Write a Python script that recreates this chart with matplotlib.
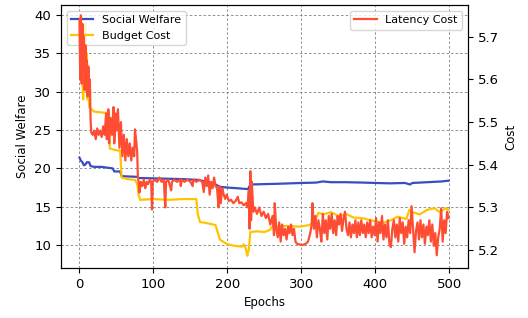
import matplotlib.pyplot as plt

# Social welfare (left axis)
sw_epochs = [0, 2, 4, 6, 8, 10, 13, 15, 20, 30, 37, 45, 47, 55, 57, 65, 78, 80, 100,
             120, 140, 160, 170, 180, 190, 200, 215, 228, 231, 250, 270, 300, 320,
             329, 340, 360, 383, 400, 420, 440, 447, 450, 470, 490, 499]
sw_values = [21.4, 21.0, 20.8, 20.4, 20.5, 20.8, 20.8, 20.3, 20.2, 20.2, 20.1, 20.0,
             19.6, 19.6, 19.0, 18.95, 18.9, 18.75, 18.7, 18.65, 18.6, 18.5, 18.3,
             18.1, 17.6, 17.5, 17.4, 17.3, 17.9, 17.95, 18.0, 18.1, 18.15, 18.3,
             18.2, 18.2, 18.15, 18.1, 18.05, 18.1, 17.9, 18.1, 18.2, 18.3, 18.4]

# Budget cost (left axis)
bc_epochs = [0, 1, 2, 3, 4, 5, 6, 7, 8, 9, 10, 11, 12, 13, 15, 20, 30, 40, 41, 48,
             55, 57, 65, 75, 78, 80, 82, 100, 120, 140, 158, 160, 163, 170, 180,
             184, 188, 190, 195, 200, 210, 220, 222, 225, 227, 229, 231, 240, 250,
             258, 260, 280, 298, 310, 316, 320, 323, 330, 340, 350, 362, 370, 383,
             400, 410, 420, 430, 442, 446, 450, 460, 470, 480, 487, 495, 499]
bc_values = [39.7, 36.0, 39.5, 33.0, 31.0, 29.0, 31.5, 36.0, 39.0, 30.0, 35.0, 29.0,
             33.0, 28.0, 27.8, 27.4, 27.3, 27.2, 22.6, 22.4, 22.3, 18.8, 18.6, 18.5,
             18.0, 16.5, 15.9, 16.0, 15.9, 16.0, 16.0, 14.0, 13.0, 12.9, 12.7, 12.6,
             11.3, 10.7, 10.4, 10.1, 9.9, 9.8, 10.1, 9.5, 8.6, 9.5, 11.7, 11.8, 11.7,
             12.0, 12.4, 12.5, 12.4, 12.6, 12.9, 13.5, 14.2, 14.0, 14.3, 13.8, 14.0,
             13.6, 13.5, 13.1, 12.9, 13.2, 13.7, 13.4, 14.6, 14.3, 14.0, 14.6, 14.8,
             14.3, 14.8, 14.6]

# Latency cost (right axis)
lc_epochs = [0, 1, 2, 3, 4, 5, 6, 7, 8, 9, 10, 11, 12, 13, 14, 15, 16, 18, 20, 22,
             24, 26, 28, 30, 32, 34, 36, 37, 39, 40, 42, 44, 46, 47, 49, 50, 52, 54,
             56, 58, 60, 62, 64, 66, 68, 70, 72, 74, 75, 77, 78, 79, 80, 81, 83, 85,
             87, 89, 91, 93, 95, 97, 98, 99, 102, 105, 108, 111, 114, 116, 117, 120,
             124, 125, 128, 132, 136, 137, 138, 142, 146, 150, 153, 154, 158, 162,
             166, 168, 170, 172, 174, 176, 178, 180, 182, 184, 186, 188, 189, 191,
             193, 195, 197, 199, 202, 205, 208, 211, 214, 216, 219, 222, 225, 227,
             229, 230, 231, 232, 233, 235, 237, 240, 243, 246, 249, 252, 255, 258,
             261, 263, 264, 266, 268, 270, 272, 274, 276, 278, 280, 282, 284, 286,
             288, 290, 292, 294, 298, 302, 306, 309, 312, 314, 315, 317, 319, 321,
             323, 325, 327, 329, 331, 333, 335, 337, 339, 341, 343, 345, 347, 349,
             351, 353, 355, 357, 359, 361, 363, 365, 367, 369, 371, 373, 375, 377,
             379, 381, 383, 385, 387, 389, 391, 393, 395, 397, 399, 401, 403, 405,
             407, 409, 411, 413, 415, 417, 419, 421, 423, 425, 427, 429, 431, 433,
             435, 437, 439, 441, 443, 445, 447, 449, 451, 453, 455, 457, 459, 461,
             463, 465, 467, 469, 471, 473, 475, 477, 479, 481, 483, 485, 487, 489,
             491, 493, 495, 497, 499]
lc_values = [5.74, 5.60, 5.75, 5.59, 5.73, 5.62, 5.70, 5.575, 5.68, 5.60, 5.645,
             5.56, 5.63, 5.58, 5.60, 5.505, 5.475, 5.47, 5.48, 5.46, 5.485, 5.47,
             5.48, 5.465, 5.49, 5.47, 5.52, 5.46, 5.53, 5.45, 5.51, 5.47, 5.535,
             5.45, 5.52, 5.48, 5.53, 5.44, 5.50, 5.42, 5.47, 5.41, 5.46, 5.42, 5.45,
             5.41, 5.44, 5.42, 5.483, 5.45, 5.43, 5.37, 5.36, 5.335, 5.36, 5.35,
             5.365, 5.345, 5.36, 5.355, 5.365, 5.36, 5.295, 5.36, 5.365, 5.36, 5.37,
             5.36, 5.365, 5.30, 5.36, 5.365, 5.34, 5.36, 5.365, 5.36, 5.365, 5.35,
             5.365, 5.36, 5.365, 5.36, 5.35, 5.365, 5.36, 5.365, 5.36, 5.336, 5.37,
             5.35, 5.375, 5.33, 5.36, 5.345, 5.37, 5.35, 5.345, 5.30, 5.35, 5.31,
             5.345, 5.33, 5.32, 5.33, 5.315, 5.318, 5.31, 5.315, 5.325, 5.31, 5.312,
             5.305, 5.31, 5.30, 5.34, 5.25, 5.385, 5.27, 5.36, 5.29, 5.30, 5.285,
             5.30, 5.28, 5.29, 5.275, 5.285, 5.26, 5.28, 5.235, 5.31, 5.25, 5.23,
             5.265, 5.22, 5.26, 5.235, 5.25, 5.225, 5.255, 5.24, 5.26, 5.235, 5.25,
             5.22, 5.215, 5.213, 5.212, 5.215, 5.22, 5.24, 5.26, 5.31, 5.25, 5.28,
             5.23, 5.27, 5.25, 5.22, 5.285, 5.24, 5.27, 5.225, 5.28, 5.25, 5.285,
             5.24, 5.27, 5.235, 5.28, 5.26, 5.285, 5.245, 5.275, 5.29, 5.25, 5.235,
             5.265, 5.23, 5.26, 5.24, 5.27, 5.23, 5.265, 5.235, 5.27, 5.24, 5.26,
             5.23, 5.265, 5.24, 5.27, 5.23, 5.255, 5.235, 5.275, 5.22, 5.265, 5.24,
             5.28, 5.225, 5.26, 5.23, 5.27, 5.215, 5.207, 5.25, 5.27, 5.23, 5.26,
             5.22, 5.275, 5.24, 5.265, 5.215, 5.255, 5.23, 5.27, 5.24, 5.303, 5.25,
             5.195, 5.245, 5.265, 5.225, 5.27, 5.23, 5.26, 5.215, 5.255, 5.235,
             5.27, 5.22, 5.26, 5.21, 5.24, 5.188, 5.23, 5.25, 5.298, 5.22, 5.27,
             5.24, 5.29, 5.275]

fig, ax1 = plt.subplots(figsize=(5.28, 3.18), dpi=100)
fig.subplots_adjust(left=0.1155, right=0.886, bottom=0.157, top=0.984)

ax1.plot(sw_epochs, sw_values, color="#3B4CC0", linewidth=1.6, label="Social Welfare")
ax1.plot(bc_epochs, bc_values, color="#FFC400", linewidth=1.6, label="Budget Cost")
ax1.set_xlabel("Epochs", fontsize=8.5)
ax1.set_ylabel("Social Welfare", fontsize=8.5)
ax1.set_xlim(-25, 525)
ax1.set_ylim(7.0, 41.3)
ax1.set_xticks([0, 100, 200, 300, 400, 500])
ax1.set_yticks([10, 15, 20, 25, 30, 35, 40])
ax1.tick_params(labelsize=9.5)
ax1.grid(True, linestyle=(0, (3, 2.5)), color="0.5", linewidth=0.6)
ax1.legend(loc="upper left", fontsize=8)

ax2 = ax1.twinx()
ax2.plot(lc_epochs, lc_values, color="#FF4D33", linewidth=1.6, label="Latency Cost")
ax2.set_ylabel("Cost", fontsize=8.5)
ax2.set_ylim(5.158, 5.774)
ax2.set_yticks([5.2, 5.3, 5.4, 5.5, 5.6, 5.7])
ax2.tick_params(labelsize=9.5)
ax2.legend(loc="upper right", fontsize=8)

plt.savefig("out.png", dpi=100)
